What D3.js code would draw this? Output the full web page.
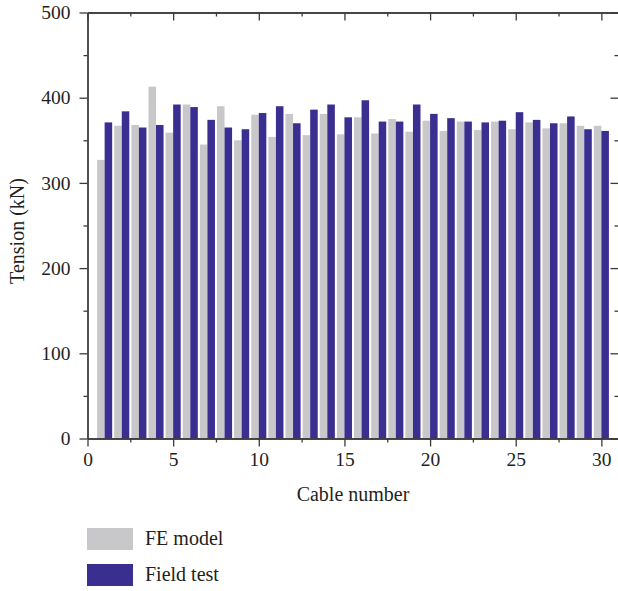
<!DOCTYPE html>
<html>
<head>
<meta charset="utf-8">
<script src="https://cdn.jsdelivr.net/npm/d3@7"></script>
<style>
  html, body { margin: 0; padding: 0; background: #fff; }
  svg { display: block; }
  text { font-family: "Liberation Serif", "DejaVu Serif", serif; fill: #231f20; }
</style>
</head>
<body>
<svg id="chart" width="618" height="591"></svg>
<script>
// Cable tension per cable: finite-element model vs. field measurement (kN)
const cables = d3.range(1, 31);
const feModel = [327, 367, 368, 413, 359, 392, 345, 390, 350, 380,
                 354, 381, 356, 381, 357, 377, 358, 375, 360, 373,
                 361, 372, 362, 372, 363, 371, 364, 370, 367, 367];
const fieldTest = [371, 384, 365, 368, 392, 389, 374, 365, 363, 382,
                   390, 370, 386, 392, 377, 397, 372, 372, 392, 381,
                   376, 372, 371, 373, 383, 374, 370, 378, 363, 361];
const xTicks = [0, 5, 10, 15, 20, 25, 30];
const xMinor = [2.5, 7.5, 12.5, 17.5, 22.5, 27.5];
const yTicks = [0, 100, 200, 300, 400, 500];
const yMinor = [50, 150, 250, 350, 450];
const seriesNames = ["FE model", "Field test"];
const seriesColors = ["#c8c8ca", "#3a2f91"];

const svg = d3.select("#chart");
const plotLeft = 87.5, plotRight = 618.5, plotTop = 12.5, plotBottom = 438.5;
const tickFont = 19.5, titleFont = 20;

const x = d3.scaleLinear().domain([0, 31]).range([plotLeft, plotRight]);
const y = d3.scaleLinear().domain([0, 500]).range([plotBottom, plotTop]);
const barW = x(0.44) - x(0);

// bars
const g = svg.append("g");
g.selectAll("rect.fe").data(cables).join("rect")
  .attr("class", "fe")
  .attr("x", d => x(d) - barW)
  .attr("width", barW)
  .attr("y", (d, i) => y(feModel[i]))
  .attr("height", (d, i) => y(0) - y(feModel[i]))
  .attr("fill", seriesColors[0]);
g.selectAll("rect.ft").data(cables).join("rect")
  .attr("class", "ft")
  .attr("x", d => x(d))
  .attr("width", barW)
  .attr("y", (d, i) => y(fieldTest[i]))
  .attr("height", (d, i) => y(0) - y(fieldTest[i]))
  .attr("fill", seriesColors[1]);

// axes
function styleAxis(sel) {
  sel.selectAll(".domain").attr("stroke", "#3a3a3a").attr("stroke-width", 1.3);
  sel.selectAll(".tick line").attr("stroke", "#3a3a3a").attr("stroke-width", 1.3);
  sel.selectAll("text").attr("font-size", tickFont)
    .attr("font-family", '"Liberation Serif", "DejaVu Serif", serif').attr("fill", "#231f20");
}

// bottom
svg.append("g").attr("transform", `translate(0,${plotBottom})`)
  .call(d3.axisBottom(x).tickValues(xTicks).tickSize(8).tickSizeOuter(0).tickPadding(6).tickFormat(d3.format("d")))
  .call(styleAxis);
svg.append("g").attr("transform", `translate(0,${plotBottom})`)
  .call(d3.axisBottom(x).tickValues(xMinor).tickSize(4).tickSizeOuter(0).tickFormat(""))
  .call(styleAxis);
// top (mirror, inward ticks)
svg.append("g").attr("transform", `translate(0,${plotTop})`)
  .call(d3.axisTop(x).tickValues(xTicks).tickSize(-8).tickSizeOuter(0).tickFormat(""))
  .call(styleAxis);
svg.append("g").attr("transform", `translate(0,${plotTop})`)
  .call(d3.axisTop(x).tickValues(xMinor).tickSize(-4).tickSizeOuter(0).tickFormat(""))
  .call(styleAxis);
// left
svg.append("g").attr("transform", `translate(${plotLeft},0)`)
  .call(d3.axisLeft(y).tickValues(yTicks).tickSize(8).tickSizeOuter(0).tickPadding(9))
  .call(styleAxis);
svg.append("g").attr("transform", `translate(${plotLeft},0)`)
  .call(d3.axisLeft(y).tickValues(yMinor).tickSize(4).tickSizeOuter(0).tickFormat(""))
  .call(styleAxis);
// right (mirror, inward ticks)
svg.append("g").attr("transform", `translate(${plotRight},0)`)
  .call(d3.axisRight(y).tickValues(yTicks).tickSize(-8).tickSizeOuter(0).tickFormat(""))
  .call(styleAxis);
svg.append("g").attr("transform", `translate(${plotRight},0)`)
  .call(d3.axisRight(y).tickValues(yMinor).tickSize(-4).tickSizeOuter(0).tickFormat(""))
  .call(styleAxis);

// axis titles
svg.append("text")
  .attr("x", 353).attr("y", 501)
  .attr("text-anchor", "middle").attr("font-size", titleFont)
  .text("Cable number");
svg.append("text")
  .attr("transform", `translate(24,231) rotate(-90)`)
  .attr("text-anchor", "middle").attr("font-size", titleFont)
  .text("Tension (kN)");

// legend
const legend = svg.append("g");
seriesNames.forEach((name, i) => {
  const ly = 528 + i * 36;
  legend.append("rect")
    .attr("x", 87).attr("y", ly).attr("width", 46).attr("height", 22)
    .attr("fill", seriesColors[i]);
  legend.append("text")
    .attr("x", 145).attr("y", ly + 17)
    .attr("font-size", titleFont)
    .text(name);
});
</script>
</body>
</html>
